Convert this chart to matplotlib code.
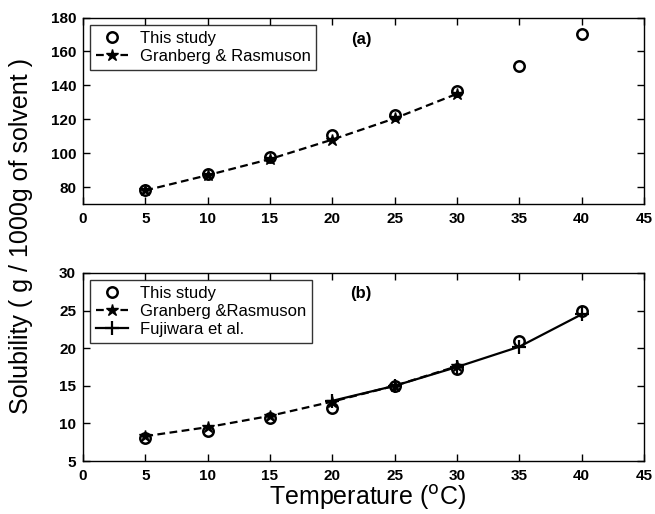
import matplotlib.pyplot as plt
import numpy as np

# panel (a)
temp_a = [5, 10, 15, 20, 25, 30, 35, 40]
this_a = [78, 87.5, 98, 111, 122.5, 136.5, 151.5, 170]
gr_temp_a = [5, 10, 15, 20, 25, 30]
gr_a = [78, 87, 96.5, 108, 120.5, 135]

# panel (b)
temp_b = [5, 10, 15, 20, 25, 30, 35, 40]
this_b = [8.0, 9.0, 10.7, 12.1, 15.0, 17.3, 20.9, 24.9]
gr_temp_b = [5, 10, 15, 20, 25, 30]
gr_b = [8.3, 9.5, 11.0, 12.9, 15.0, 17.6]
fu_temp_b = [20, 25, 30, 35, 40]
fu_b = [13.0, 15.0, 17.5, 20.2, 24.5]

plt.rcParams['font.family'] = ['Liberation Sans', 'DejaVu Sans']

fig = plt.figure(figsize=(6.55, 5.14), dpi=100)
ax1 = fig.add_axes([0.1267, 0.6031, 0.8565, 0.3628])
ax2 = fig.add_axes([0.1267, 0.1031, 0.8565, 0.3658])

circ = dict(marker='o', ms=7.5, mfc='none', mec='black', mew=1.8, ls='none', color='black')
dash = (0, (3.5, 2))

leg_kw = dict(loc='upper left', fontsize=12, frameon=True, fancybox=False,
              edgecolor='black', borderaxespad=0.45, handlelength=1.9,
              labelspacing=0.18, borderpad=0.35, handletextpad=0.7)

ax1.plot(gr_temp_a, gr_a, ls=dash, lw=1.6, color='black', marker='*', ms=9,
         label='Granberg & Rasmuson', zorder=2)
ax1.plot(temp_a, this_a, label='This study', zorder=3, **circ)
h, l = ax1.get_legend_handles_labels()
leg = ax1.legend(h[::-1], l[::-1], **leg_kw)
leg.get_frame().set_linewidth(1.0)
ax1.text(22.3, 167, '(a)', fontsize=12, fontweight='bold', ha='center', va='center')
ax1.set_xlim(0, 45)
ax1.set_ylim(70, 180)
ax1.set_yticks(np.arange(80, 181, 20))

ax2.plot(gr_temp_b, gr_b, ls=dash, lw=1.6, color='black', marker='*', ms=9,
         label='Granberg &Rasmuson', zorder=2)
ax2.plot(fu_temp_b, fu_b, ls='-', lw=1.6, color='black', marker='+', ms=10, mew=1.6,
         label='Fujiwara et al.', zorder=2)
ax2.plot(temp_b, this_b, label='This study', zorder=3, **circ)
h, l = ax2.get_legend_handles_labels()
order = [2, 0, 1]
leg = ax2.legend([h[i] for i in order], [l[i] for i in order], **leg_kw)
leg.get_frame().set_linewidth(1.0)
ax2.text(22.3, 27.3, '(b)', fontsize=12, fontweight='bold', ha='center', va='center')
ax2.set_xlim(0, 45)
ax2.set_ylim(5, 30)
ax2.set_yticks(np.arange(5, 31, 5))

for ax in (ax1, ax2):
    ax.set_xticks(np.arange(0, 46, 5))
    ax.tick_params(direction='in', top=True, right=True, length=5, width=1)
    ax.tick_params(axis='x', pad=6)
    ax.tick_params(axis='y', pad=5)
    for lab in ax.get_xticklabels() + ax.get_yticklabels():
        lab.set_fontweight('bold')
        lab.set_fontsize(11)
    for s in ax.spines.values():
        s.set_linewidth(1.0)

fig.text(0.5611, 0.033, 'Temperature ($^{\\rm o}$C)', fontsize=18, ha='center', va='center')
fig.text(0.032, 0.541, 'Solubility ( g / 1000g of solvent )', rotation=90,
         fontsize=18, ha='center', va='center')

fig.savefig('out.png', dpi=100)
